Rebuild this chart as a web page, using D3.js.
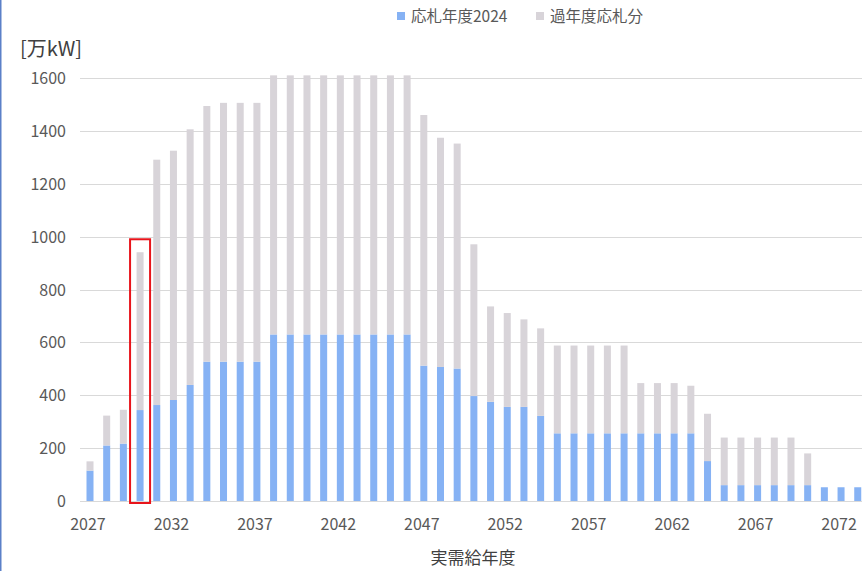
<!DOCTYPE html>
<html>
<head>
<meta charset="utf-8">
<script src="https://cdn.jsdelivr.net/npm/d3@7"></script>
<style>
  html, body { margin: 0; padding: 0; background: #fff; }
  svg { display: block; font-family: "Noto Sans CJK JP", "Noto Sans", sans-serif; }
</style>
</head>
<body>
<div id="chart"></div>
<script>
// Data (万kW)
const years = d3.range(2027, 2074);
const bid2024 = [
  115, 210, 217, 344, 363, 382, 439, 527, 527, 527,
  527, 630, 630, 630, 630, 630, 630, 630, 630, 630,
  512, 507, 501, 397, 375, 356, 356, 322, 256, 256,
  256, 256, 256, 256, 256, 256, 256, 151, 60, 60,
  60, 60, 60, 60, 52, 52, 52
];
const pastBids = [
  35, 113, 128, 597, 928, 943, 967, 967, 979, 979,
  979, 980, 980, 980, 980, 980, 980, 980, 980, 980,
  948, 867, 851, 574, 361, 355, 331, 331, 332, 332,
  332, 332, 332, 190, 190, 190, 180, 179, 180, 180,
  180, 180, 180, 120, 0, 0, 0
];
const seriesNames = ['応札年度2024', '過年度応札分'];
const yTicks = [0, 200, 400, 600, 800, 1000, 1200, 1400, 1600];
const xTickYears = [2027, 2032, 2037, 2042, 2047, 2052, 2057, 2062, 2067, 2072];
const highlightYear = 2030;
const highlightTop = 990;

// Config
const W = 862, H = 571;
const COLORS = { blue: '#86b2f4', grey: '#d8d4d9', grid: '#d9d9d9', text: '#595959', title: '#404040' };
const STEP = 16.69;
const X0 = 90 - STEP / 2;

const svg = d3.select('#chart').append('svg')
  .attr('width', W).attr('height', H);

const table = years.map((y, i) => ({ year: y, a: bid2024[i], b: pastBids[i] }));
const stacked = d3.stack().keys(['a', 'b'])(table);

const x = d3.scaleBand()
  .domain(years)
  .range([X0, X0 + STEP * years.length])
  .paddingInner(0.58)
  .paddingOuter(0.29);

const y = d3.scaleLinear().domain([0, 1600]).range([501, 78]);

// left border
svg.append('line')
  .attr('x1', 0.75).attr('x2', 0.75).attr('y1', 0).attr('y2', H)
  .attr('stroke', '#5b80c8').attr('stroke-width', 1.5);

// gridlines
svg.append('g').selectAll('line')
  .data(yTicks).enter().append('line')
  .attr('x1', 80).attr('x2', W)
  .attr('y1', d => Math.round(y(d)) + 0.5).attr('y2', d => Math.round(y(d)) + 0.5)
  .attr('stroke', COLORS.grid).attr('stroke-width', 1);

// y labels
svg.append('g').selectAll('text')
  .data(yTicks).enter().append('text')
  .attr('x', 66).attr('y', d => y(d) + 6)
  .attr('text-anchor', 'end')
  .style('font-size', '16px').style('fill', COLORS.text)
  .text(d => d);

// bars
const colorOf = { a: COLORS.blue, b: COLORS.grey };
svg.append('g').selectAll('g')
  .data(stacked).enter().append('g')
  .attr('fill', d => colorOf[d.key])
  .selectAll('rect')
  .data(d => d.filter(p => p[1] > p[0])).enter().append('rect')
  .attr('x', d => x(d.data.year))
  .attr('width', x.bandwidth())
  .attr('y', d => y(d[1]))
  .attr('height', d => y(d[0]) - y(d[1]));

// x labels
svg.append('g').selectAll('text')
  .data(xTickYears).enter().append('text')
  .attr('x', d => x(d) + x.bandwidth() / 2 - 2)
  .attr('y', 530)
  .attr('text-anchor', 'middle')
  .style('font-size', '16px').style('fill', COLORS.text)
  .text(d => d);

// highlight box
svg.append('rect')
  .attr('x', x(highlightYear) - 6.5)
  .attr('y', y(highlightTop))
  .attr('width', x.bandwidth() + 13)
  .attr('height', y(0) - y(highlightTop) + 2)
  .attr('fill', 'none').attr('stroke', '#e8141b').attr('stroke-width', 2);

// unit label
svg.append('text')
  .attr('x', 20).attr('y', 56)
  .style('font-size', '20px').style('fill', COLORS.title)
  .text('[万kW]');

// axis title
svg.append('text')
  .attr('x', 473).attr('y', 564)
  .attr('text-anchor', 'middle')
  .style('font-size', '17px').style('fill', COLORS.title)
  .text('実需給年度');

// legend
const legend = svg.append('g');
const legendX = [397, 536];
seriesNames.forEach((name, i) => {
  legend.append('rect')
    .attr('x', legendX[i]).attr('y', 12)
    .attr('width', 8).attr('height', 8)
    .attr('fill', i === 0 ? COLORS.blue : COLORS.grey);
  legend.append('text')
    .attr('x', legendX[i] + 14).attr('y', 22)
    .style('font-size', '15.5px').style('fill', COLORS.text)
    .text(name);
});
</script>
</body>
</html>
